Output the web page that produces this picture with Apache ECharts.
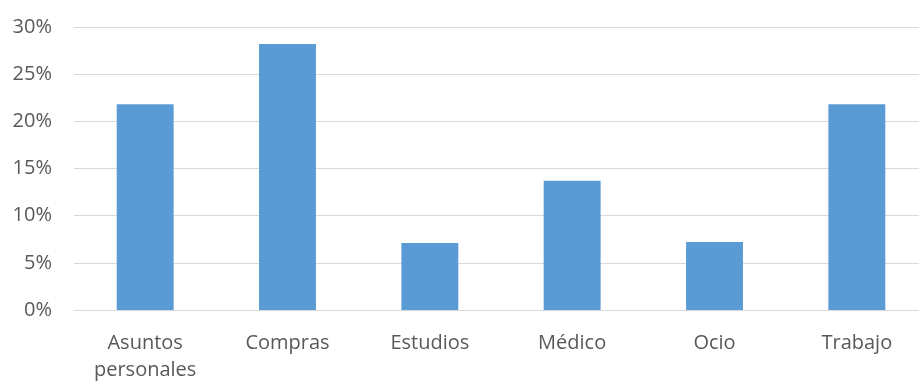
<!DOCTYPE html>
<html>
<head>
<meta charset="utf-8">
<script src="https://cdn.jsdelivr.net/npm/echarts@6/dist/echarts.min.js"></script>
<style>
html,body{margin:0;padding:0;background:#fff;}
#chart{width:919px;height:381px;}
</style>
</head>
<body>
<div id="chart"></div>
<script>
const categories = ['Asuntos\npersonales', 'Compras', 'Estudios', 'Médico', 'Ocio', 'Trabajo'];
const values = [21.8, 28.2, 7.1, 13.7, 7.2, 21.8];
const yTicks = [0, 5, 10, 15, 20, 25, 30];

const chart = echarts.init(document.getElementById('chart'));
chart.setOption({
  animation: false,
  grid: { left: 74, width: 854, top: 27, height: 283, containLabel: false, outerBoundsMode: 'none' },
  xAxis: {
    type: 'category',
    data: categories,
    axisLine: { show: true, lineStyle: { color: '#d9d9d9', width: 1 } },
    axisTick: { show: false },
    axisLabel: {
      color: '#595959', fontSize: 20, fontFamily: 'Open Sans, sans-serif',
      margin: 20, lineHeight: 27, verticalAlign: 'top', interval: 0
    }
  },
  yAxis: {
    type: 'value',
    min: yTicks[0], max: yTicks[yTicks.length - 1], interval: 5,
    axisLine: { show: false },
    axisTick: { show: false },
    splitLine: { lineStyle: { color: '#d9d9d9', width: 1 } },
    axisLabel: {
      color: '#595959', fontSize: 20, fontFamily: 'Open Sans, sans-serif',
      margin: 22, formatter: v => v + '%'
    }
  },
  series: [{
    type: 'bar',
    data: values,
    barWidth: '40%',
    itemStyle: { color: '#5b9bd5' }
  }]
});
</script>
</body>
</html>
